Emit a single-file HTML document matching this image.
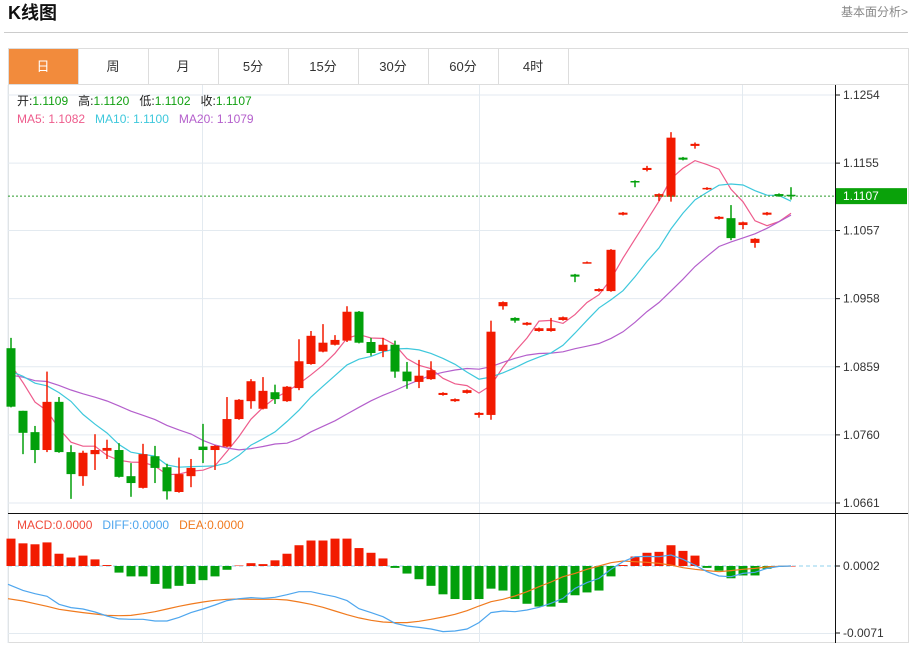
<!DOCTYPE html>
<html><head><meta charset="utf-8">
<style>
html,body{margin:0;padding:0;background:#fff;}
body{width:913px;height:643px;overflow:hidden;position:relative;font-family:"Liberation Sans","Noto Sans CJK SC",sans-serif;}
svg text{font-family:"Liberation Sans","Noto Sans CJK SC",sans-serif;}
</style></head>
<body>
<svg id="chart" width="913" height="643" viewBox="0 0 913 643" xmlns="http://www.w3.org/2000/svg">
  <text x="8" y="19" font-size="18" font-weight="bold" fill="#111">K线图</text>
  <text x="908" y="16" font-size="12" fill="#888" text-anchor="end">基本面分析&gt;</text>
  <line x1="4" y1="32.5" x2="908" y2="32.5" stroke="#ccc"/>
  <g id="tabs"></g>
  <g id="grid"></g>
  <g id="ma"></g>
  <g id="candles"></g>
  <g id="macd"></g>
  <g id="axis"></g>
  <g id="legend"></g>
</svg>
<script>
const tabLabels = ["日","周","月","5分","15分","30分","60分","4时"];
const priceTicks = [1.1254,1.1155,1.1057,1.0958,1.0859,1.0760,1.0661];
const macdTicks = [0.0002,-0.0071];
const priorCloses = [1.0835,1.0842,1.0830,1.0848,1.0838,1.0845,1.0836,1.0850,1.0842,1.0844,1.0852,1.0838,1.0846,1.0834,1.0830,1.0923,1.0880,1.0870,1.0866];
const opens = [1.0886,1.0795,1.0764,1.0738,1.0808,1.0735,1.0700,1.0732,1.0737,1.0738,1.0700,1.0683,1.0729,1.0713,1.0677,1.0700,1.0743,1.0738,1.0743,1.0783,1.0809,1.0798,1.0822,1.0809,1.0828,1.0863,1.0881,1.0891,1.0897,1.0939,1.0895,1.0882,1.0891,1.0852,1.0837,1.0841,1.0818,1.0809,1.0821,1.0789,1.0789,1.0947,1.0930,1.0920,1.0911,1.0911,1.0927,1.0993,1.1010,1.0969,1.0969,1.1080,1.1129,1.1145,1.1106,1.1106,1.1163,1.1180,1.1117,1.1074,1.1075,1.1065,1.1039,1.1080,1.1110,1.1109];
const highs = [1.0901,1.0795,1.0773,1.0852,1.0815,1.0745,1.0737,1.0761,1.0753,1.0748,1.0719,1.0747,1.0744,1.0718,1.0727,1.0725,1.0776,1.0745,1.0815,1.0812,1.0841,1.0844,1.0833,1.0831,1.0899,1.0911,1.0921,1.0905,1.0947,1.0940,1.0901,1.0901,1.0897,1.0866,1.0869,1.0867,1.0822,1.0813,1.0826,1.0793,1.0926,1.0954,1.0931,1.0924,1.0916,1.0930,1.0932,1.0994,1.1012,1.0973,1.1030,1.1084,1.1130,1.1151,1.1111,1.1200,1.1164,1.1185,1.1120,1.1078,1.1094,1.1070,1.1046,1.1084,1.1111,1.1120];
const lows = [1.0800,1.0732,1.0719,1.0735,1.0734,1.0667,1.0686,1.0709,1.0725,1.0698,1.0670,1.0682,1.0690,1.0666,1.0676,1.0684,1.0719,1.0709,1.0742,1.0782,1.0798,1.0797,1.0805,1.0808,1.0825,1.0862,1.0880,1.0890,1.0895,1.0893,1.0875,1.0873,1.0843,1.0827,1.0828,1.0840,1.0817,1.0808,1.0820,1.0785,1.0782,1.0942,1.0923,1.0919,1.0910,1.0910,1.0926,1.0982,1.1009,1.0968,1.0968,1.1079,1.1120,1.1143,1.1100,1.1099,1.1159,1.1176,1.1116,1.1073,1.1043,1.1059,1.1032,1.1079,1.1106,1.1102];
const closes = [1.0801,1.0763,1.0738,1.0808,1.0735,1.0703,1.0734,1.0738,1.0741,1.0699,1.0690,1.0732,1.0712,1.0678,1.0703,1.0712,1.0738,1.0744,1.0783,1.0811,1.0838,1.0824,1.0812,1.0830,1.0867,1.0904,1.0894,1.0898,1.0939,1.0894,1.0879,1.0891,1.0852,1.0838,1.0846,1.0854,1.0821,1.0812,1.0825,1.0792,1.0910,1.0953,1.0926,1.0923,1.0915,1.0915,1.0931,1.0990,1.1011,1.0972,1.1029,1.1083,1.1128,1.1148,1.1110,1.1192,1.1160,1.1183,1.1119,1.1077,1.1046,1.1069,1.1045,1.1083,1.1107,1.1107];
// MACD values in units of 0.0001
const macdHist = [29,24,23,25,13,9,11,7,1,-7,-11,-11,-19,-24,-21,-19,-15,-11,-4,0.5,3,2,6,13,22,27,27,29,29,19,14,8,-2,-8,-14,-21,-30,-35,-36,-35,-24,-26,-35,-40,-43,-43,-39,-31,-28,-26,-11,1,10,14,15,22,16,11,-2,-5,-13,-10,-10,-3,-1,0];
const diffVals = [-19.4,-25.8,-29.3,-32.1,-40.6,-44.1,-45.6,-48.7,-53,-56,-56.5,-56.5,-58.3,-58.3,-54.4,-49.4,-45.6,-41.3,-36.7,-34.6,-33.5,-34.3,-33.2,-30.4,-27.2,-27.2,-30,-32.5,-36.7,-45.2,-49.4,-53.7,-60.7,-63.6,-65,-66.7,-69.5,-68.9,-66.7,-60,-49.4,-47.7,-48.4,-46.6,-43.8,-39.5,-34.3,-23.7,-17.6,-13.1,-3.5,4.6,9.9,10.2,9.9,11.7,7.1,1,-6,-10.6,-11.3,-7.8,-6.7,-2.5,-0.4,0];
const deaVals = [-34.6,-37.1,-39.9,-42.7,-45.9,-47.7,-49.4,-50.8,-52.3,-52.6,-52.3,-50.5,-48.4,-45.6,-42.7,-40.3,-38.1,-36.3,-35.3,-35,-35.3,-35.3,-35.3,-36,-38.1,-40.6,-43.8,-47.7,-51.6,-55,-57.5,-59.3,-60,-60,-58.6,-56.5,-54,-51.2,-47.3,-42.4,-37.8,-35.3,-31.8,-27.2,-21.9,-16.9,-11.3,-7.8,-3.5,0,3.5,5.3,4.6,3.9,2.8,1,-1.8,-3.5,-4.9,-6,-4.9,-3.5,-2.5,-1,-0.4,0];

const NS="http://www.w3.org/2000/svg";
function mk(tag, attrs, parent){const e=document.createElementNS(NS,tag);for(const k in attrs)e.setAttribute(k,attrs[k]);parent.appendChild(e);return e;}
const RED="#f21a00", GREEN="#02a00b";
const PTOP=priceTicks[0], PBOT=priceTicks[priceTicks.length-1];
const yP = p => 95 + (PTOP-p)/(PTOP-PBOT)*408;
const xI = i => 11 + 12*i;
const yM = v => 566 - v*0.944;

// tabs
const tabs=document.getElementById('tabs');
const frame=mk('rect',{x:8.5,y:48.5,width:900,height:594,fill:'none',stroke:'#ddd'},tabs);


tabLabels.forEach((t,i)=>{
  const g=mk('g',{},tabs);
  
  
  mk('rect',{x:8.5+70*i,y:48.5,width:70,height:36,fill:i===0?'#f28b3c':'#fff',stroke:'#ddd'},g);
  const tx=mk('text',{x:43+70*i,y:71,'font-size':13,'text-anchor':'middle',fill:i===0?'#fff':'#333'},g);
  tx.textContent=t;
});
mk('line',{x1:8,y1:84.5,x2:908,y2:84.5,stroke:'#ddd'},tabs);

// grid
const grid=document.getElementById('grid');
priceTicks.forEach(p=>{const l=mk('line',{x1:8,y1:yP(p),x2:835,y2:yP(p),stroke:'#e3eaf0'},grid);
  });
[202,479,742].forEach(x=>{mk('line',{x1:x+0.5,y1:85,x2:x+0.5,y2:643,stroke:'#e3eaf0'},grid);});
mk('line',{x1:8,y1:633.5,x2:835,y2:633.5,stroke:'#e3eaf0'},grid);
mk('line',{x1:8,y1:85,x2:8,y2:643,stroke:'#e3eaf0'},grid);
mk('line',{x1:8,y1:513.5,x2:908,y2:513.5,stroke:'#111'},grid);
mk('line',{x1:835.5,y1:85,x2:835.5,y2:643,stroke:'#111'},grid);

// MA lines
const allC=priorCloses.concat(closes);
function ma(n){return closes.map((c,i)=>{const j=i+priorCloses.length;let s=0,k=0;for(let m=j;m>j-n&&m>=0;m--){s+=allC[m];k++;}return s/k;});}
const maGroup=document.getElementById('ma');
[[5,'#ee5c8c','ma5-line'],[20,'#b45fcc','ma20-line'],[10,'#3ec8dc','ma10-line']].forEach(([n,c,name])=>{
  const v=ma(n);
  const pts=v.map((p,i)=>(i===0?8:xI(i))+','+yP(p).toFixed(1)).join(' ');
  const pl=mk('polyline',{points:pts,fill:'none',stroke:c,'stroke-width':1.2},maGroup);
  
  
});

// candles
const cg=document.getElementById('candles');
closes.forEach((c,i)=>{
  const o=opens[i], up=c>o, col=up?RED:GREEN, x=xI(i);
  const g=mk('g',{},cg);
  
  
  mk('line',{x1:x,y1:yP(highs[i]),x2:x,y2:yP(lows[i]),stroke:col,'stroke-width':1.5},g);
  const top=yP(Math.max(o,c)), bot=yP(Math.min(o,c));
  mk('rect',{x:x-4.5,y:top,width:9,height:Math.max(bot-top,1.5),fill:col},g);
});
// last price dotted
const last=closes[closes.length-1];
const dl=mk('line',{x1:8,y1:yP(last),x2:835,y2:yP(last),stroke:'#2a9a2a','stroke-dasharray':'2,2'},cg);



// MACD
const mg=document.getElementById('macd');
const zl=mk('line',{x1:8,y1:566,x2:835,y2:566,stroke:'#8fd0ee','stroke-dasharray':'4,3'},mg);


macdHist.forEach((v,i)=>{
  const y0=yM(0), y1=yM(v);
  const r=mk('rect',{x:xI(i)-4.5,y:Math.min(y0,y1),width:9,height:Math.max(Math.abs(y1-y0),0.5),fill:v>=0?RED:GREEN},mg);
  
  
});
[[deaVals,'#f07a1e','dea-line'],[diffVals,'#4ea6ee','diff-line']].forEach(([arr,c,name])=>{
  const pts=arr.map((v,i)=>(i===0?8:xI(i))+','+yM(v).toFixed(1)).join(' ');
  const pl=mk('polyline',{points:pts,fill:'none',stroke:c,'stroke-width':1.2},mg);
  
  
});

// axis labels
const ax=document.getElementById('axis');
priceTicks.forEach(p=>{
  mk('line',{x1:835,y1:yP(p),x2:840,y2:yP(p),stroke:'#111'},ax);
  const t=mk('text',{x:843,y:yP(p)+4,'font-size':12,fill:'#333'},ax);
  
  
  t.textContent=p.toFixed(4);
});
macdTicks.forEach((v,i)=>{
  const y=i===0?566:633;
  mk('line',{x1:835,y1:y,x2:840,y2:y,stroke:'#111'},ax);
  const t=mk('text',{x:843,y:y+4,'font-size':12,fill:'#333'},ax);
  
  
  t.textContent=v.toFixed(4);
});
const pb=mk('g',{},ax);


mk('rect',{x:836,y:yP(last)-8,width:71,height:16,fill:'#0aa20a'},pb);
const pbt=mk('text',{x:843,y:yP(last)+4,'font-size':12,fill:'#fff'},pb);
pbt.textContent=last.toFixed(4);

// legend
const lg=document.getElementById('legend');
function txt(parts,y,x0){const g=mk('text',{x:x0,y:y,'font-size':12},lg);parts.forEach(([s,c])=>{const ts=mk('tspan',{fill:c},g);ts.textContent=s;});return g;}
const l1=txt([["开:","#222"],[opens[65].toFixed(4)+"   ","#12a012"],["高:","#222"],[highs[65].toFixed(4)+"   ","#12a012"],["低:","#222"],[lows[65].toFixed(4)+"   ","#12a012"],["收:","#222"],[closes[65].toFixed(4),"#12a012"]],105,17);


l1.style.whiteSpace='pre';
const m5=ma(5)[65],m10=ma(10)[65],m20=ma(20)[65];
const l2=txt([["MA5: "+m5.toFixed(4)+"   ","#ee5c8c"],["MA10: "+m10.toFixed(4)+"   ","#3ec8dc"],["MA20: "+m20.toFixed(4),"#b45fcc"]],123,17);


l2.style.whiteSpace='pre';
const l3=txt([["MACD:0.0000   ","#f04a3a"],["DIFF:0.0000   ","#4ea6ee"],["DEA:0.0000","#f07a1e"]],529,17);


l3.style.whiteSpace='pre';
</script>
</body></html>
